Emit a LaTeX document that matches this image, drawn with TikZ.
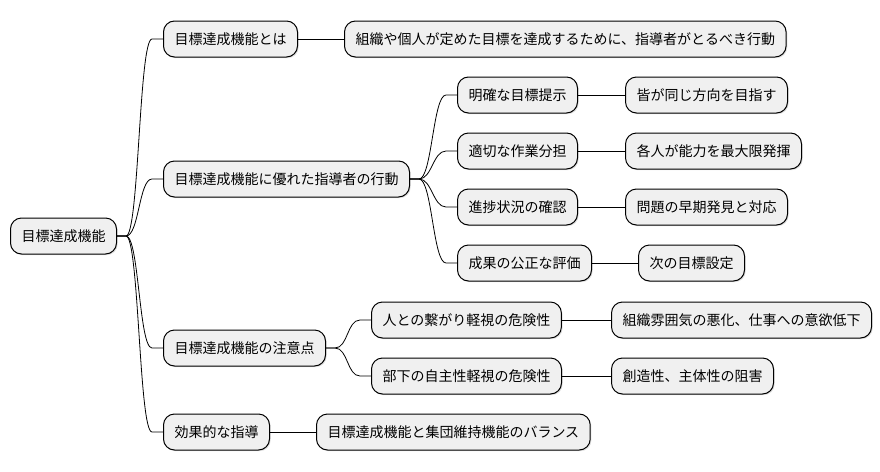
\documentclass[tikz,border=0pt]{standalone}
\usepackage{fontspec}
\setmainfont{Noto Sans CJK JP}
\usepackage{tikz}
\usetikzlibrary{shadows}

\tikzset{
  topic/.style={draw=black, line width=1pt, fill=gray!12, rounded corners=11pt,
    anchor=west, minimum height=36pt, inner xsep=11pt, inner ysep=0pt,
    font=\fontsize{14pt}{16pt}\selectfont,
    drop shadow={shadow xshift=1.2pt, shadow yshift=-1.2pt, opacity=0.25}},
  edge/.style={line width=0.8pt, black}
}
% curved branch: short stub, s-curve, short stub
\newcommand{\branch}[2]{\draw[edge] (#1.east) -- ++(9pt,0)
  .. controls +(13pt,0) and +(-13pt,0) .. ([xshift=-11pt]#2.west) -- (#2.west);}

\begin{document}
\begin{tikzpicture}[x=1pt,y=-1pt]
\useasboundingbox (0,0) rectangle (880,471);
% root
\node[topic] (root) at (10,236) {目標達成機能};
% first level
\node[topic] (def)    at (163,39)  {目標達成機能とは};
\node[topic] (lead)   at (163,179) {目標達成機能に優れた指導者の行動};
\node[topic] (warn)   at (163,348) {目標達成機能の注意点};
\node[topic] (guide)  at (163,432) {効果的な指導};
% second level
\node[topic] (defa)   at (344,39)  {組織や個人が定めた目標を達成するために、指導者がとるべき行動};
\node[topic] (goal)   at (457,95)  {明確な目標提示};
\node[topic] (task)   at (457,151) {適切な作業分担};
\node[topic] (check)  at (457,207) {進捗状況の確認};
\node[topic] (eval)   at (457,263) {成果の公正な評価};
\node[topic] (bond)   at (371,320) {人との繋がり軽視の危険性};
\node[topic] (auto)   at (371,376) {部下の自主性軽視の危険性};
\node[topic] (bal)    at (316,432) {目標達成機能と集団維持機能のバランス};
% third level
\node[topic] (goala)  at (625,95)  {皆が同じ方向を目指す};
\node[topic] (taska)  at (625,151) {各人が能力を最大限発揮};
\node[topic] (checka) at (625,207) {問題の早期発見と対応};
\node[topic] (evala)  at (638,263) {次の目標設定};
\node[topic] (bonda)  at (611,320) {組織雰囲気の悪化、仕事への意欲低下};
\node[topic] (autoa)  at (611,376) {創造性、主体性の阻害};
% connectors
\branch{root}{def}
\branch{root}{lead}
\branch{root}{warn}
\branch{root}{guide}
\branch{lead}{goal}
\branch{lead}{task}
\branch{lead}{check}
\branch{lead}{eval}
\branch{warn}{bond}
\branch{warn}{auto}
\draw[edge] (def) -- (defa);
\draw[edge] (guide) -- (bal);
\draw[edge] (goal) -- (goala);
\draw[edge] (task) -- (taska);
\draw[edge] (check) -- (checka);
\draw[edge] (eval) -- (evala);
\draw[edge] (bond) -- (bonda);
\draw[edge] (auto) -- (autoa);
\end{tikzpicture}
\end{document}
